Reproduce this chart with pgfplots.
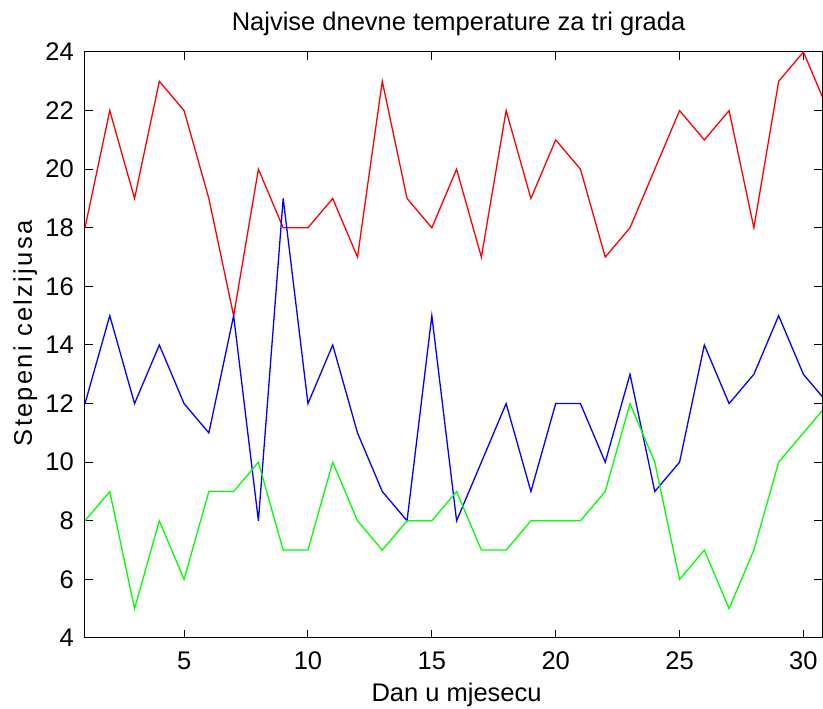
\documentclass[border=0pt]{standalone}
\usepackage{fontspec}
\setmainfont{Liberation Sans}
\usepackage{pgfplots}
\pgfplotsset{compat=1.18}
\begin{document}
\begin{tikzpicture}
\useasboundingbox (-85pt,-71pt) rectangle (738pt,638pt);
\begin{axis}[
  at={(0pt,0pt)}, anchor=south west,
  scale only axis, width=737pt, height=586pt,
  xmin=1, xmax=30.75, ymin=4, ymax=24,
  xtick={5,10,...,30}, ytick={4,6,...,24},
  tick align=inside, major tick length=8pt,
  axis line style={line width=1pt},
  every tick/.style={black, line width=1pt},
  font=\fontsize{25.5}{30}\selectfont,
  /pgf/number format/assume math mode=true,
  xticklabel style={anchor=base, inner sep=0pt, yshift=-32pt},
  yticklabel style={anchor=east, inner sep=0pt, xshift=-11pt},
  clip mode=individual,
]
\addplot[red, line width=1.3pt] coordinates {
(1,18)(2,22)(3,19)(4,23)(5,22)(6,19)(7,15)(8,20)(9,18)(10,18)
(11,19)(12,17)(13,23)(14,19)(15,18)(16,20)(17,17)(18,22)(19,19)(20,21)
(21,20)(22,17)(23,18)(24,20)(25,22)(26,21)(27,22)(28,18)(29,23)(30,24)(31,22)};
\addplot[blue, line width=1.3pt] coordinates {
(1,12)(2,15)(3,12)(4,14)(5,12)(6,11)(7,15)(8,8)(9,19)(10,12)
(11,14)(12,11)(13,9)(14,8)(15,15)(16,8)(17,10)(18,12)(19,9)(20,12)
(21,12)(22,10)(23,13)(24,9)(25,10)(26,14)(27,12)(28,13)(29,15)(30,13)(31,12)};
\addplot[green, line width=1.3pt] coordinates {
(1,8)(2,9)(3,5)(4,8)(5,6)(6,9)(7,9)(8,10)(9,7)(10,7)
(11,10)(12,8)(13,7)(14,8)(15,8)(16,9)(17,7)(18,7)(19,8)(20,8)
(21,8)(22,9)(23,12)(24,10)(25,6)(26,7)(27,5)(28,7)(29,10)(30,11)(31,12)};
\node[anchor=base] at (axis cs:16.08,24) [yshift=21pt] {Najvise dnevne temperature za tri grada};
\node[anchor=base] at (axis cs:16,4) [yshift=-63.7pt] {Dan u mjesecu};
\node[xshift=-53pt, anchor=base, rotate=90] at (axis cs:1,14.4) {\addfontfeature{LetterSpace=9}Stepeni celzijusa};
\end{axis}
\end{tikzpicture}
\end{document}
